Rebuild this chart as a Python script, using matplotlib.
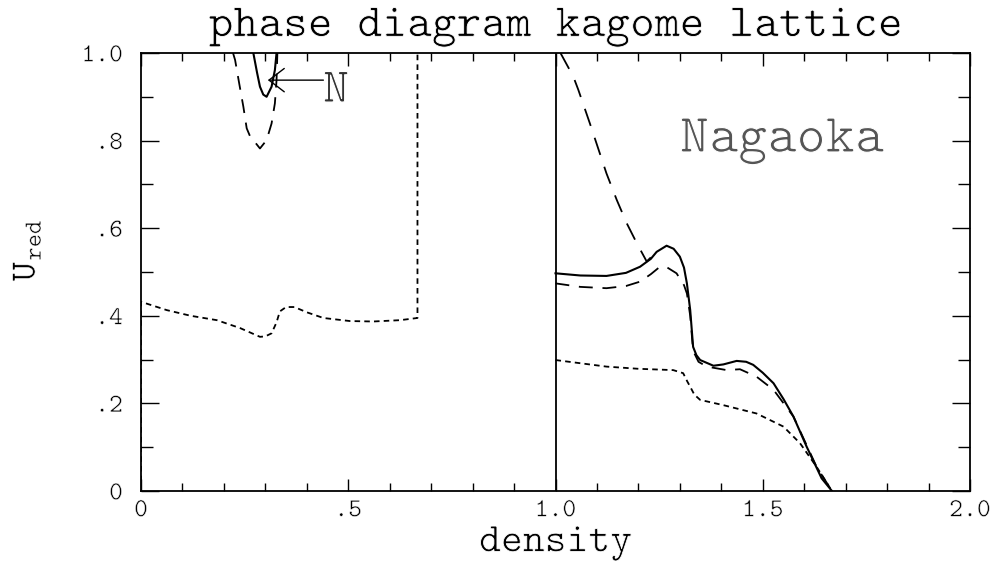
import matplotlib
matplotlib.use("Agg")
import matplotlib.pyplot as plt
import matplotlib.patheffects as pe
from matplotlib.ticker import MultipleLocator

plt.rcParams['font.family'] = ['cmtt10', 'DejaVu Serif']
plt.rcParams['mathtext.fontset'] = 'custom'
plt.rcParams['mathtext.rm'] = 'cmtt10'
plt.rcParams['mathtext.it'] = 'cmtt10'
plt.rcParams['lines.scale_dashes'] = False

# ---------------- data ----------------
# left panel, dotted curve (incl. vertical segments at x=0 and x=2/3)
left_dot_x = [0.0, 0.0, 0.062, 0.12, 0.183, 0.239, 0.287, 0.30, 0.315, 0.327,
              0.335, 0.35, 0.37, 0.40, 0.44, 0.504, 0.56, 0.625, 0.667, 0.667]
left_dot_y = [0.0, 0.432, 0.413, 0.40, 0.39, 0.372, 0.352, 0.353, 0.36, 0.385,
              0.41, 0.42, 0.42, 0.408, 0.395, 0.388, 0.387, 0.39, 0.395, 1.0]

# left panel, solid small U ("N")
left_sol_x = [0.271, 0.280, 0.287, 0.295, 0.303, 0.315, 0.323, 0.327]
left_sol_y = [1.0, 0.955, 0.923, 0.905, 0.900, 0.923, 0.961, 1.0]

# left panel, dashed U
left_dash_x = [0.222, 0.227, 0.237, 0.247, 0.255, 0.263, 0.271, 0.287, 0.303,
               0.315, 0.323, 0.327, 0.329]
left_dash_y = [1.0, 0.984, 0.93, 0.877, 0.828, 0.81, 0.801, 0.782, 0.801,
               0.839, 0.885, 0.938, 1.0]

# right panel, steep long-dashed curve
r_top_x = [1.012, 1.043, 1.055, 1.083, 1.123, 1.148, 1.172, 1.196, 1.22, 1.235]
r_top_y = [1.0, 0.946, 0.916, 0.839, 0.725, 0.664, 0.611, 0.566, 0.524, 0.538]

# right panel, solid curve
r_sol_x = [1.0, 1.06, 1.123, 1.17, 1.204, 1.23, 1.244, 1.268, 1.285, 1.30,
           1.31, 1.317, 1.325, 1.332, 1.34, 1.349, 1.381, 1.405, 1.437, 1.46,
           1.477, 1.50, 1.526, 1.55, 1.574, 1.606, 1.642, 1.667]
r_sol_y = [0.497, 0.492, 0.491, 0.498, 0.512, 0.53, 0.546, 0.560, 0.553, 0.535,
           0.51, 0.474, 0.413, 0.329, 0.31, 0.299, 0.286, 0.289, 0.297, 0.295,
           0.288, 0.27, 0.246, 0.21, 0.170, 0.101, 0.029, 0.0]

# right panel, dashed curve just below the solid one
r_dash_x = [1.0, 1.06, 1.123, 1.17, 1.204, 1.23, 1.252, 1.27, 1.292, 1.31,
            1.317, 1.325, 1.332, 1.345, 1.365, 1.413, 1.445, 1.485, 1.526,
            1.574, 1.63, 1.667]
r_dash_y = [0.474, 0.466, 0.463, 0.468, 0.478, 0.495, 0.512, 0.51, 0.497, 0.47,
            0.451, 0.40, 0.32, 0.295, 0.284, 0.276, 0.278, 0.261, 0.231,
            0.17, 0.055, 0.0]

# right panel, dotted curve
r_dot_x = [1.0, 1.123, 1.2, 1.284, 1.308, 1.318, 1.325, 1.335, 1.349, 1.405,
           1.485, 1.55, 1.59, 1.63, 1.667]
r_dot_y = [0.299, 0.284, 0.279, 0.276, 0.269, 0.25, 0.238, 0.22, 0.208, 0.196,
           0.177, 0.147, 0.109, 0.055, 0.0]

x_ticks = [0.0, 0.5, 1.0, 1.5, 2.0]
x_tick_labels = ['0', '.5', '1.0', '1.5', '2.0']
y_ticks = [0.0, 0.2, 0.4, 0.6, 0.8, 1.0]
y_tick_labels = ['0', '.2', '.4', '.6', '.8', '1.0']

title = 'phase diagram kagome lattice'
x_label = 'density'
y_label = r'$\mathrm{U}_{\mathrm{red}}$'
panel_label = 'Nagaoka'
arrow_label = 'N'
arrow_tip = (0.306, 0.938)
# ------------------------------------------------------------------

thin = [pe.Stroke(linewidth=0.6, foreground='white')]
thin_mid = [pe.Stroke(linewidth=0.8, foreground='white')]
thin_small = [pe.Stroke(linewidth=0.4, foreground='white')]

fig = plt.figure(figsize=(10, 5.66), dpi=100)
ax = fig.add_axes([0.141, 0.1325, 0.829, 0.7739])

dotted = (0, (4, 3))
dashed = (0, (10, 7))
longdash = (0, (13, 9))
lw = 1.3

ax.plot(left_dot_x, left_dot_y, color='black', lw=lw, linestyle=dotted)
ax.plot(left_sol_x, left_sol_y, color='black', lw=lw + 0.2, linestyle='-')
ax.plot(left_dash_x, left_dash_y, color='black', lw=lw, linestyle=dashed)
ax.plot(r_top_x, r_top_y, color='black', lw=lw, linestyle=longdash)
ax.plot(r_sol_x, r_sol_y, color='black', lw=lw + 0.2, linestyle='-')
ax.plot(r_dash_x, r_dash_y, color='black', lw=lw, linestyle=dashed)
ax.plot(r_dot_x, r_dot_y, color='black', lw=lw, linestyle=dotted)

ax.axvline(1.0, color='black', lw=1.3)

ax.set_xlim(0, 2.0)
ax.set_ylim(0, 1.0)

ax.set_xticks(x_ticks, x_tick_labels)
ax.set_yticks(y_ticks, y_tick_labels)
ax.xaxis.set_minor_locator(MultipleLocator(0.1))
ax.yaxis.set_minor_locator(MultipleLocator(0.1))
ax.tick_params(axis='x', which='major', direction='in', length=9, width=1.0,
               top=True, bottom=True, labelsize=19, pad=6)
ax.tick_params(axis='x', which='minor', direction='in', length=6, width=1.0,
               top=True, bottom=True)
ax.tick_params(axis='y', which='major', direction='in', length=13, width=1.0,
               left=True, right=True, labelsize=19, pad=13)
ax.tick_params(axis='y', which='minor', direction='in', length=8.5, width=1.0,
               left=True, right=True)
for s in ax.spines.values():
    s.set_linewidth(1.3)
for lab in ax.get_xticklabels() + ax.get_yticklabels():
    lab.set_path_effects(thin_small)

t = ax.set_title(title, fontsize=34, pad=12)
t.set_path_effects(thin)
xl = ax.set_xlabel(x_label, fontsize=30, labelpad=3)
xl.set_path_effects(thin)
yl = ax.set_ylabel(y_label, fontsize=26)
yl.set_path_effects(thin_small)
ax.yaxis.set_label_coords(-0.118, 0.55)

ax.text(1.30, 0.774, panel_label, fontsize=40, color='#555555',
        ha='left', va='baseline', path_effects=thin_mid)

ax.annotate('', xy=arrow_tip, xytext=(0.44, arrow_tip[1]),
            arrowprops=dict(arrowstyle='->,head_length=0.55,head_width=0.42',
                            mutation_scale=20, lw=1.0, color='black',
                            shrinkA=0, shrinkB=0))
ax.text(0.439, 0.888, arrow_label, fontsize=36, color='#333333',
        ha='left', va='baseline', path_effects=thin_mid)

fig.savefig('out.png', dpi=100)
